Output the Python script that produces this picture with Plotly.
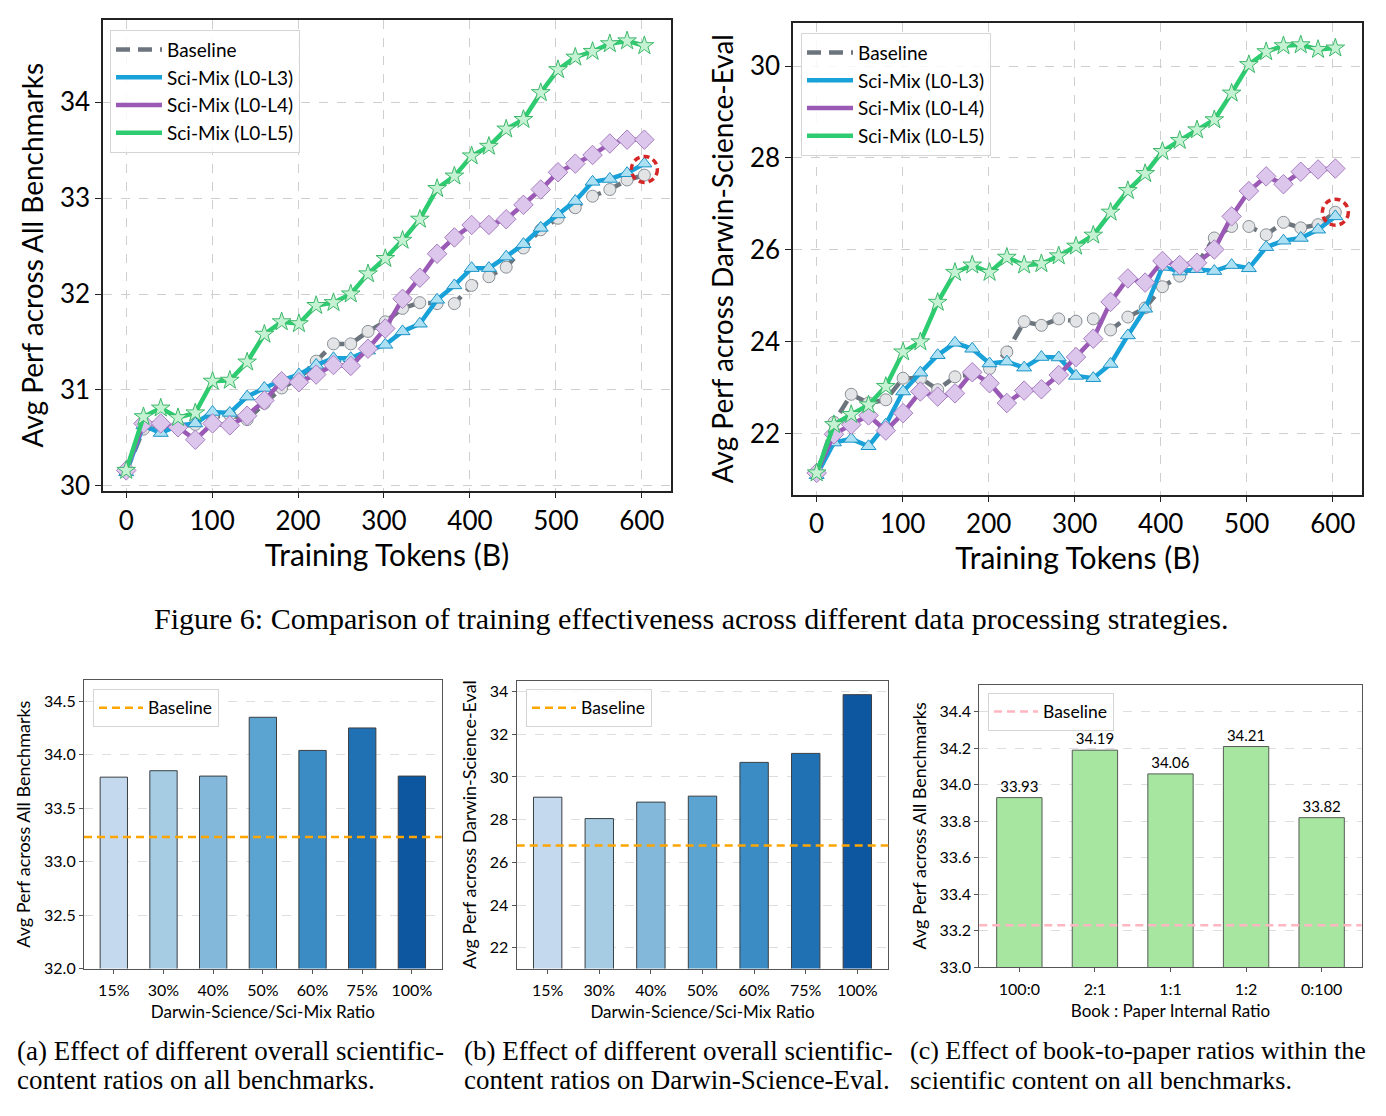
import plotly.graph_objects as go

# ---------------- data ----------------
tokens = [0.0, 20.1, 40.2, 60.3, 80.4, 100.5, 120.6, 140.7, 160.8, 180.9, 201.0,
          221.1, 241.2, 261.3, 281.4, 301.5, 321.6, 341.7, 361.8, 381.9, 402.0,
          422.1, 442.2, 462.3, 482.4, 502.5, 522.6, 542.7, 562.8, 582.9, 603.0]

series_names = ["Baseline", "Sci-Mix (L0-L3)", "Sci-Mix (L0-L4)", "Sci-Mix (L0-L5)"]

all_baseline = [30.15, 30.59, 30.60, 30.62, 30.64, 30.72, 30.74, 30.69, 30.86, 31.02, 31.12,
                31.30, 31.48, 31.48, 31.61, 31.71, 31.85, 31.91, 31.90, 31.90, 32.09,
                32.18, 32.28, 32.48, 32.67, 32.79, 32.90, 33.02, 33.09, 33.19, 33.24]
all_l3 = [30.14, 30.63, 30.55, 30.63, 30.65, 30.77, 30.76, 30.93, 31.02, 31.10, 31.16,
          31.26, 31.33, 31.33, 31.41, 31.47, 31.61, 31.69, 31.94, 32.09, 32.27,
          32.27, 32.39, 32.52, 32.69, 32.83, 32.97, 33.17, 33.20, 33.26, 33.36]
all_l4 = [30.16, 30.65, 30.65, 30.61, 30.48, 30.65, 30.63, 30.73, 30.89, 31.09, 31.08,
          31.16, 31.26, 31.25, 31.43, 31.64, 31.95, 32.17, 32.42, 32.59, 32.72,
          32.72, 32.78, 32.93, 33.09, 33.27, 33.36, 33.45, 33.57, 33.61, 33.61]
all_l5 = [30.16, 30.72, 30.81, 30.71, 30.76, 31.09, 31.10, 31.29, 31.58, 31.71, 31.69,
          31.88, 31.91, 32.00, 32.21, 32.37, 32.56, 32.78, 33.10, 33.23, 33.44,
          33.54, 33.72, 33.82, 34.10, 34.34, 34.47, 34.53, 34.61, 34.64, 34.59]

dse_baseline = [21.12, 22.25, 22.86, 22.67, 22.74, 23.21, 23.21, 22.96, 23.24, 23.30, 23.42,
                23.78, 24.44, 24.36, 24.50, 24.45, 24.50, 24.26, 24.54, 24.74, 25.20,
                25.43, 25.69, 26.26, 26.51, 26.51, 26.33, 26.60, 26.48, 26.55, 26.82]
dse_l3 = [21.10, 21.81, 21.89, 21.73, 22.20, 22.92, 23.33, 23.71, 23.98, 23.85, 23.53,
          23.57, 23.44, 23.67, 23.66, 23.26, 23.21, 23.52, 24.14, 24.72, 25.63,
          25.53, 25.58, 25.54, 25.67, 25.60, 26.06, 26.20, 26.26, 26.44, 26.73]
dse_l4 = [21.15, 21.99, 22.20, 22.40, 22.07, 22.45, 22.92, 22.81, 22.88, 23.34, 23.10,
          22.67, 22.94, 22.97, 23.28, 23.67, 24.07, 24.87, 25.38, 25.29, 25.76,
          25.67, 25.72, 26.01, 26.73, 27.28, 27.60, 27.43, 27.70, 27.75, 27.77]
dse_l5 = [21.15, 22.20, 22.42, 22.63, 23.03, 23.78, 24.00, 24.86, 25.51, 25.67, 25.51,
          25.84, 25.67, 25.70, 25.87, 26.08, 26.32, 26.82, 27.29, 27.66, 28.14,
          28.38, 28.61, 28.83, 29.41, 30.03, 30.31, 30.44, 30.46, 30.36, 30.39]

ratio_labels = ["15%", "30%", "40%", "50%", "60%", "75%", "100%"]
ratio_all = [33.79, 33.85, 33.80, 34.35, 34.04, 34.25, 33.80]
ratio_all_baseline = 33.23
ratio_dse = [29.05, 28.05, 28.82, 29.10, 30.68, 31.10, 33.85]
ratio_dse_baseline = 26.79

book_labels = ["100:0", "2:1", "1:1", "1:2", "0:100"]
book_all = [33.93, 34.19, 34.06, 34.21, 33.82]
book_baseline = 33.23

top_x_ticks = [0, 100, 200, 300, 400, 500, 600]
tl_y_ticks = [30, 31, 32, 33, 34]
tr_y_ticks = [22, 24, 26, 28, 30]
a_y_ticks = [32.0, 32.5, 33.0, 33.5, 34.0, 34.5]
b_y_ticks = [22, 24, 26, 28, 30, 32, 34]
c_y_ticks = [33.0, 33.2, 33.4, 33.6, 33.8, 34.0, 34.2, 34.4]

# ---------------- styles ----------------
FONT = "Lato"
SERIF = "Liberation Serif"
W, H = 1386, 1116
blues = ["#c4d9ee", "#a6cce3", "#83b8da", "#5ba3d0", "#3b8bc4", "#2070b4", "#0d56a0"]
styles = [
    dict(line=dict(color="#6c757d", width=4.5, dash="14px,8px"),
         marker=dict(symbol="circle", size=12, color="#e2e4e6", line=dict(color="#8a9096", width=1))),
    dict(line=dict(color="#18a2d9", width=4.5),
         marker=dict(symbol="triangle-up", size=13, color="#aee0f3", line=dict(color="#1a94c8", width=1))),
    dict(line=dict(color="#9b59b6", width=4.5),
         marker=dict(symbol="diamond", size=15, color="#dcc6ec", line=dict(color="#a77fc0", width=1))),
    dict(line=dict(color="#2ecc71", width=4.5),
         marker=dict(symbol="star", size=14, color="#c6f2d4", line=dict(color="#3cb86a", width=1))),
]


def px_x(p):
    return p / W


def px_y(p):
    return 1 - p / H


fig = go.Figure()

# ---------------- top line charts ----------------
top_sets = [("x", "y", "legend", [all_baseline, all_l3, all_l4, all_l5]),
            ("x2", "y2", "legend2", [dse_baseline, dse_l3, dse_l4, dse_l5])]
for xa, ya, lg, data in top_sets:
    for name, vals, st in zip(series_names, data, styles):
        fig.add_trace(go.Scatter(x=tokens, y=vals, mode="lines+markers", name=name,
                                 line=st["line"], marker=st["marker"],
                                 xaxis=xa, yaxis=ya, showlegend=False))
    for name, st in zip(series_names, styles):
        fig.add_trace(go.Scatter(x=[None], y=[None], mode="lines", name=name,
                                 line=st["line"], xaxis=xa, yaxis=ya, legend=lg))

# ---------------- bottom bar charts ----------------
fig.add_trace(go.Bar(x=ratio_labels, y=ratio_all, width=0.55, marker=dict(color=blues, line=dict(color="#3a3f44", width=1)),
                     xaxis="x3", yaxis="y3", showlegend=False))
fig.add_trace(go.Bar(x=ratio_labels, y=ratio_dse, width=0.55, marker=dict(color=blues, line=dict(color="#3a3f44", width=1)),
                     xaxis="x4", yaxis="y4", showlegend=False))
fig.add_trace(go.Bar(x=book_labels, y=book_all, width=0.6,
                     marker=dict(color="#a6e6a1", line=dict(color="#555b55", width=1)),
                     text=[f"{v:.2f}" for v in book_all], textposition="outside",
                     textfont=dict(family=FONT, size=15, color="black"), cliponaxis=False,
                     xaxis="x5", yaxis="y5", showlegend=False))

base_specs = [("x3", "y3", "legend3", ratio_all_baseline, "#ffa500"),
              ("x4", "y4", "legend4", ratio_dse_baseline, "#ffa500"),
              ("x5", "y5", "legend5", book_baseline, "#ffb6c1")]
shapes = []
for xa, ya, lg, val, col in base_specs:
    fig.add_trace(go.Scatter(x=[None], y=[None], mode="lines", name="Baseline",
                             line=dict(color=col, width=2.5, dash="8px,5px"),
                             xaxis=xa, yaxis=ya, legend=lg))
    shapes.append(dict(type="line", xref=f"{xa} domain", x0=0, x1=1, yref=ya, y0=val, y1=val,
                       line=dict(color=col, width=2.5, dash="8px,5px"), layer="above"))

# highlight circles at the final checkpoint
for xa, ya, yv in [("x", "y", (all_l3[-1] + all_baseline[-1]) / 2), ("x2", "y2", dse_baseline[-1])]:
    shapes.append(dict(type="circle", xref=xa, yref=ya, xsizemode="pixel", ysizemode="pixel",
                       xanchor=tokens[-1], yanchor=yv, x0=-13, x1=13, y0=-13, y1=13,
                       line=dict(color="#d62728", width=3.5, dash="6px,4px")))


def top_axis(domain, title, tickvals, rng, anchor, font_t=30, tick=26, standoff=8):
    return dict(domain=domain, range=rng, tickvals=tickvals, anchor=anchor,
                showgrid=True, gridcolor="#cfcfcf", griddash="dash", gridwidth=1,
                showline=True, mirror=True, linecolor="#222", linewidth=1.5,
                ticks="outside", ticklen=6, tickcolor="#222", zeroline=False,
                tickfont=dict(family=FONT, size=tick, color="black"),
                title=dict(text=title, font=dict(family=FONT, size=font_t, color="black"), standoff=standoff))


def bot_axis(domain, title, rng, anchor, tickvals=None, grid=False, font_t=17, tick=16, standoff=8):
    d = dict(domain=domain, range=rng, anchor=anchor,
             showgrid=grid, gridcolor="#dedede", griddash="dash", gridwidth=1,
             showline=True, mirror=True, linecolor="#555", linewidth=1.2,
             ticks="outside", ticklen=4, tickcolor="#555", zeroline=False,
             tickfont=dict(family=FONT, size=tick, color="black"),
             title=dict(text=title, font=dict(family=FONT, size=font_t, color="black"), standoff=standoff))
    if tickvals is not None:
        d["tickvals"] = tickvals
        d["tickformat"] = ".1f" if isinstance(tickvals[0], float) else "d"
    else:
        d["ticklabelstandoff"] = 3
    return d


legend_common = dict(bgcolor="rgba(255,255,255,0.85)", bordercolor="#d5d5d5", borderwidth=1,
                     xanchor="left", yanchor="top", xref="paper", yref="paper")

fig.update_layout(
    width=W, height=H, margin=dict(l=0, r=0, t=0, b=0),
    paper_bgcolor="white", plot_bgcolor="white", bargap=0.4,
    font=dict(family=FONT, color="black"),
    xaxis=top_axis([px_x(103), px_x(671)], "Training Tokens (B)", top_x_ticks, [-27, 634], "y"),
    yaxis=top_axis([px_y(495), px_y(20)], "Avg Perf across All Benchmarks", tl_y_ticks, [29.95, 34.86], "x", font_t=28),
    xaxis2=top_axis([px_x(793), px_x(1362)], "Training Tokens (B)", top_x_ticks, [-27.5, 634], "y2"),
    yaxis2=top_axis([px_y(499), px_y(23)], "Avg Perf across Darwin-Science-Eval", tr_y_ticks, [20.68, 30.94], "x2", font_t=28),
    xaxis3=bot_axis([px_x(84), px_x(441.7)], "Darwin-Science/Sci-Mix Ratio", [-0.6, 6.6], "y3"),
    yaxis3=bot_axis([px_y(977.3), px_y(686)], "Avg Perf across All Benchmarks", [32.0, 34.7], "x3", a_y_ticks, True, font_t=18),
    xaxis4=bot_axis([px_x(516.7), px_x(888.3)], "Darwin-Science/Sci-Mix Ratio", [-0.6, 6.6], "y4"),
    yaxis4=bot_axis([px_y(977.3), px_y(686.7)], "Avg Perf across Darwin-Science-Eval", [21.03, 34.51], "x4", b_y_ticks, True, font_t=18),
    xaxis5=bot_axis([px_x(979.3), px_x(1361.7)], "Book : Paper Internal Ratio", [-0.53, 4.53], "y5"),
    yaxis5=bot_axis([px_y(976), px_y(690.7)], "Avg Perf across All Benchmarks", [33.0, 34.55], "x5", c_y_ticks, True, font_t=18),
    legend=dict(x=px_x(110), y=px_y(30), font=dict(family=FONT, size=19), itemwidth=46, **legend_common),
    legend2=dict(x=px_x(801), y=px_y(33), font=dict(family=FONT, size=19), itemwidth=46, **legend_common),
    legend3=dict(x=px_x(93), y=px_y(695), font=dict(family=FONT, size=17.5), itemwidth=44, **legend_common),
    legend4=dict(x=px_x(526), y=px_y(695), font=dict(family=FONT, size=17.5), itemwidth=44, **legend_common),
    legend5=dict(x=px_x(988), y=px_y(699), font=dict(family=FONT, size=17.5), itemwidth=44, **legend_common),
    shapes=shapes,
)

captions = [
    (px_x(691), px_y(624), "center", "Figure 6: Comparison of training effectiveness across different data processing strategies.", 30),
    (px_x(15), px_y(1060), "left", "(a) Effect of different overall scientific-", 27),
    (px_x(15), px_y(1090), "left", "content ratios on all benchmarks.", 27),
    (px_x(462), px_y(1060), "left", "(b) Effect of different overall scientific-", 27),
    (px_x(462), px_y(1090), "left", "content ratios on Darwin-Science-Eval.", 27),
    (px_x(908), px_y(1060), "left", "(c) Effect of book-to-paper ratios within the", 26),
    (px_x(908), px_y(1090), "left", "scientific content on all benchmarks.", 26),
]
for x, y, anc, txt, size in captions:
    fig.add_annotation(x=x, y=y, xref="paper", yref="paper", xanchor=anc, yanchor="middle",
                       text=txt, showarrow=False, font=dict(family=SERIF, size=size, color="black"))

fig.write_html("out.html")
